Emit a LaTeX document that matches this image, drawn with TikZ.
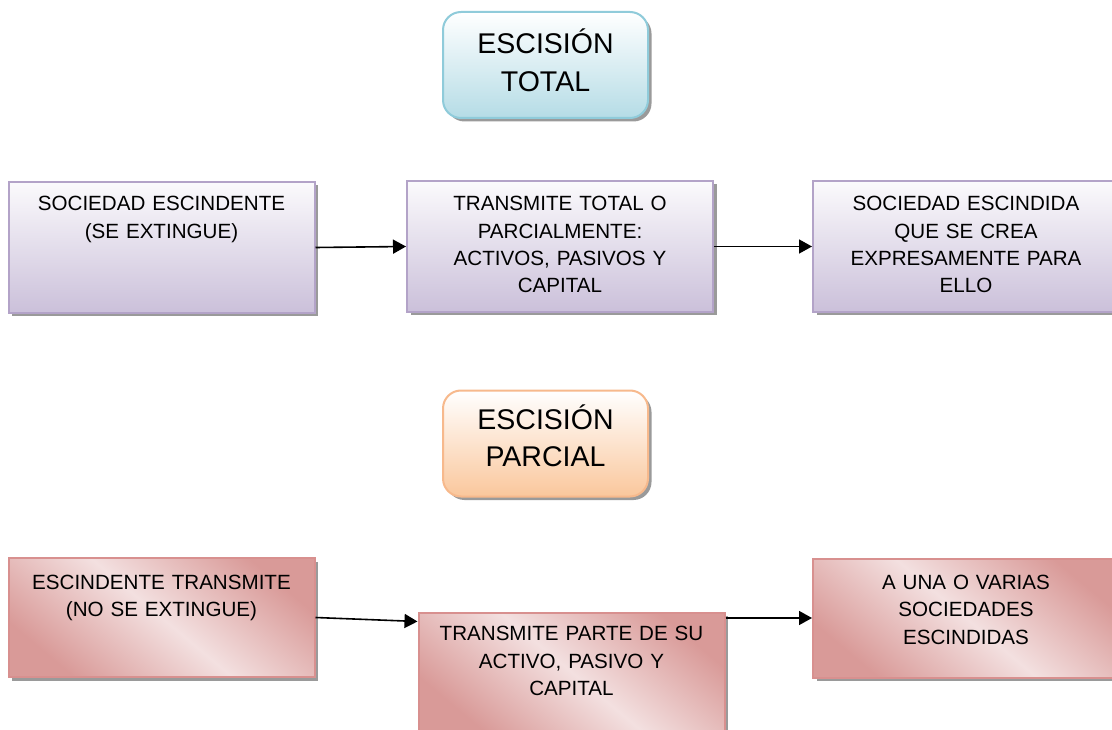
\documentclass[tikz,border=0pt]{standalone}
\usepackage{fontspec}
\setmainfont{Liberation Sans}
\usetikzlibrary{arrows.meta,calc,shadows}
\definecolor{tblue}{HTML}{B5DCE6}
\definecolor{tblueb}{HTML}{8FCBDA}
\definecolor{tpeach}{HTML}{FAC79C}
\definecolor{tpeachb}{HTML}{F7B98C}
\definecolor{lav}{HTML}{CBC0DA}
\definecolor{lavb}{HTML}{B3A3C8}
\definecolor{pinkd}{HTML}{D99A98}
\definecolor{pinkl}{HTML}{F3E0E0}
\definecolor{pinkb}{HTML}{D8908F}
\definecolor{shad}{HTML}{9A9A9A}
\tikzset{
  shadowed/.style={drop shadow={shadow xshift=3.5pt, shadow yshift=-3.5pt, fill=shad, opacity=1}},
  titlebox/.style={shadowed, rounded corners=18pt, line width=2pt, minimum width=205pt, minimum height=106pt, inner sep=0pt},
  bluebox/.style={titlebox, draw=tblueb, top color=white, bottom color=tblue},
  peachbox/.style={titlebox, draw=tpeachb, top color=white, bottom color=tpeach},
  lavbox/.style={shadowed, draw=lavb, line width=2pt, minimum width=306pt, minimum height=131pt, inner sep=0pt, top color=white!92!lav, bottom color=lav},
  pinkbox/.style={shadowed, draw=pinkb, line width=2pt, minimum width=306pt, minimum height=119pt, inner sep=0pt,
    top color=pinkd, bottom color=pinkd, middle color=pinkl, shading angle=-40},
  txt/.style={anchor=base, align=center, text width=300pt, inner sep=0pt, font=\fontsize{20.6}{27.4}\selectfont},
  ttxt/.style={anchor=base, align=center, text width=200pt, inner sep=0pt, font=\fontsize{28.5}{37.7}\selectfont},
  arr/.style={line width=1.6pt, -{Triangle[length=13pt,width=14pt]}}
}
\begin{document}
\begin{tikzpicture}[x=1pt,y=-1pt]
\useasboundingbox (0,0) rectangle (1112,730);
\clip (0,0) rectangle (1112,730);
\fill[white] (0,0) rectangle (1112,730);
% titles
\node[bluebox] (T1) at (545.5,65) {};
\node[ttxt] (T1t) at (545.5,54) {ESCISIÓN\\TOTAL};
\node[peachbox] (T2) at (545.5,443.5) {};
\node[ttxt] (T2t) at (545.5,429) {ESCISIÓN\\PARCIAL};
% row 1
\node[lavbox] (A) at (161.5,247.5) {};
\node[txt] (At) at (161.5,210.7) {SOCIEDAD ESCINDENTE\\(SE EXTINGUE)};
\node[lavbox] (B) at (560,246.5) {};
\node[txt] (Bt) at (560,210.7) {TRANSMITE TOTAL O\\PARCIALMENTE:\\ACTIVOS, PASIVOS Y\\CAPITAL};
\node[lavbox] (C) at (966,246.5) {};
\node[txt] (Ct) at (966,210.7) {SOCIEDAD ESCINDIDA\\QUE SE CREA\\EXPRESAMENTE PARA\\ELLO};
% row 2
\node[pinkbox] (D) at (161.5,617.5) {};
\node[txt] (Dt) at (161.5,589.3) {ESCINDENTE TRANSMITE\\(NO SE EXTINGUE)};
\node[pinkbox] (E) at (571.5,672) {};
\node[txt] (Et) at (571.5,640.7) {TRANSMITE PARTE DE SU\\ACTIVO, PASIVO Y\\CAPITAL};
\node[pinkbox] (F) at (966,618) {};
\node[txt] (Ft) at (966,589.3) {A UNA O VARIAS\\SOCIEDADES\\ESCINDIDAS};
% connectors
\draw[arr] (A.east) -- (B.west);
\draw[arr] (B.east) -- (C.west);
\draw[arr] (D.east) -- ($(E.north west)+(0,10)$);
\draw[arr] (E.north east |- F.west) -- (F.west);
\end{tikzpicture}
\end{document}
